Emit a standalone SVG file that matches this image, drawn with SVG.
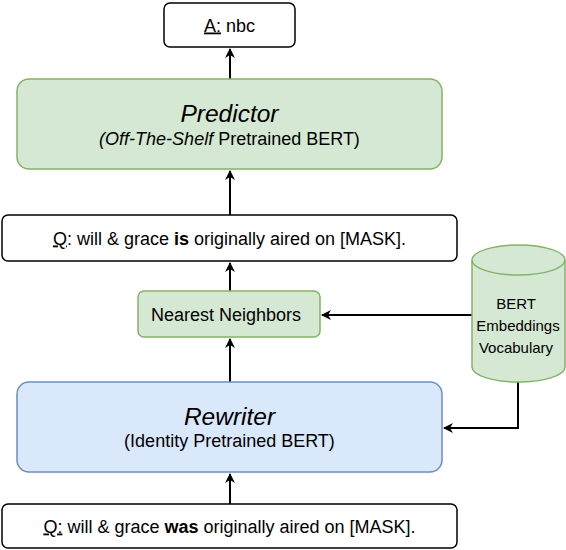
<svg xmlns="http://www.w3.org/2000/svg" width="566" height="550" viewBox="0 0 566 550">
<style>
text{font-family:"Liberation Sans",Arial,sans-serif;fill:#000;}
.w{fill:#fff;stroke:#000;stroke-width:1.5;}
.g{fill:#d5e8d4;stroke:#82b366;stroke-width:1.5;}
.b{fill:#dae8fc;stroke:#6c8ebf;stroke-width:1.5;}
.c{fill:none;stroke:#000;stroke-width:2;}
.t{font-size:18px;text-anchor:middle;}
.big{font-size:24.5px;font-style:italic;text-anchor:middle;}
.s{font-size:15px;text-anchor:middle;}
</style>
<defs>
<marker id="ah" markerWidth="10" markerHeight="10" refX="9" refY="5" orient="auto" markerUnits="userSpaceOnUse">
<path d="M0,0 L10,5 L0,10 L3,5 Z" fill="#000"/>
</marker>
</defs>
<g id="connectors">
<line class="c" x1="230" y1="504" x2="230" y2="474" marker-end="url(#ah)"/>
<line class="c" x1="230" y1="382" x2="230" y2="339" marker-end="url(#ah)"/>
<line class="c" x1="230" y1="291" x2="230" y2="263" marker-end="url(#ah)"/>
<line class="c" x1="230" y1="215" x2="230" y2="171" marker-end="url(#ah)"/>
<line class="c" x1="230" y1="79" x2="230" y2="49" marker-end="url(#ah)"/>
<line class="c" x1="472" y1="315" x2="322" y2="315" marker-end="url(#ah)"/>
<polyline class="c" points="518,382 518,428 444,428" marker-end="url(#ah)"/>
</g>
<g id="answer">
<rect class="w" x="164" y="3" width="131" height="44" rx="6"/>
<text class="t" x="229.5" y="31.5"><tspan text-decoration="underline">A:</tspan> nbc</text>
</g>
<g id="predictor">
<rect class="g" x="17" y="79" width="425" height="90" rx="12"/>
<text class="big" x="229.5" y="121.5">Predictor</text>
<text class="t" x="229.5" y="144.5"><tspan font-style="italic">(Off-The-Shelf</tspan> Pretrained BERT)</text>
</g>
<g id="query-top">
<rect class="w" x="2" y="215" width="455" height="46" rx="6"/>
<text class="t" x="229.5" y="244.5"><tspan text-decoration="underline">Q</tspan>: will &amp; grace <tspan font-weight="bold">is</tspan> originally aired on [MASK].</text>
</g>
<g id="nearest-neighbors">
<rect class="g" x="138" y="291" width="182" height="46" rx="6"/>
<text class="t" x="226" y="320.5">Nearest Neighbors</text>
</g>
<g id="vocabulary">
<path class="g" d="M472,260 A46.5,15 0 0 1 565,260 L565,367 A46.5,15 0 0 1 472,367 Z"/>
<path fill="none" stroke="#82b366" stroke-width="1.5" d="M472,260 A46.5,15 0 0 0 565,260"/>
<text class="s" x="516" y="308.5">BERT</text>
<text class="s" x="518" y="330.5">Embeddings</text>
<text class="s" x="516" y="352.5">Vocabulary</text>
</g>
<g id="rewriter">
<rect class="b" x="17" y="382" width="425" height="90" rx="12"/>
<text class="big" x="229.5" y="424.5">Rewriter</text>
<text class="t" x="229.5" y="447"><tspan>(Identity Pretrained BERT)</tspan></text>
</g>
<g id="query-bottom">
<rect class="w" x="2" y="504" width="455" height="44" rx="6"/>
<text class="t" x="229.5" y="532.5"><tspan text-decoration="underline">Q:</tspan> will &amp; grace <tspan font-weight="bold">was</tspan> originally aired on [MASK].</text>
</g>
</svg>
